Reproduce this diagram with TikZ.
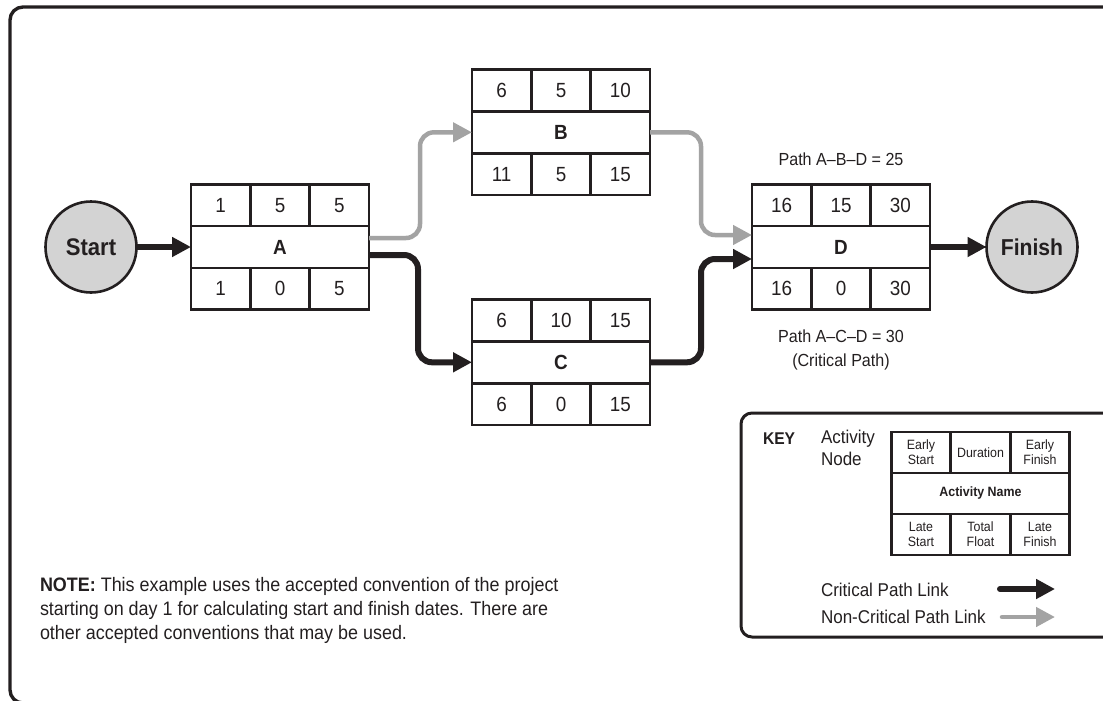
\documentclass[tikz,border=0pt]{standalone}
\usepackage{fontspec}
\setmainfont{Liberation Sans}[FakeStretch=0.92]
\usetikzlibrary{arrows.meta,calc}
\definecolor{ink}{HTML}{231F20}
\definecolor{lgray}{HTML}{A3A3A3}
\definecolor{cfill}{HTML}{D3D3D3}
\tikzset{
  cellfont/.style={font=\fontsize{20.5}{22}\selectfont},
  cellsize/.style={minimum width=59.33pt, minimum height=41.8pt},
  cell/.style={draw=ink, line width=2.6pt, inner sep=0pt, outer sep=0pt,
    align=center, text=ink, cellsize, cellfont},
  namecell/.style={cell, minimum width=178pt},
  endpt/.style={circle, draw=ink, line width=2.6pt, fill=cfill, minimum size=91pt,
    inner sep=0pt, outer sep=0pt, text=ink},
  crit/.style={draw=ink, line width=6pt, rounded corners=14pt,
    -{Triangle[length=19pt,width=19pt]}},
  ncrit/.style={draw=lgray, line width=4.5pt, rounded corners=14pt,
    -{Triangle[length=19pt,width=19pt]}},
  txt/.style={inner sep=0pt, outer sep=0pt, text=ink},
  frame/.style={draw=ink, line width=3.4pt, rounded corners=13pt},
}
\newcommand{\actbox}[9]{%
  \node[namecell] (#1) at (#2) {#6};
  \node[cell, anchor=south west] (#1-es) at (#1.north west) {#3};
  \node[cell, anchor=south] (#1-du) at (#1.north) {#4};
  \node[cell, anchor=south east] (#1-ef) at (#1.north east) {#5};
  \node[cell, anchor=north west] (#1-ls) at (#1.south west) {#7};
  \node[cell, anchor=north] (#1-tf) at (#1.south) {#8};
  \node[cell, anchor=north east] (#1-lf) at (#1.south east) {#9};
}
\begin{document}
\begin{tikzpicture}[x=1pt,y=-1pt]
\useasboundingbox (0,0) rectangle (1103,701);
\begin{scope}
  \clip (0,0) rectangle (1103,701);
  \draw[frame] (10,7) rectangle (1140,703);
  \draw[frame, line width=3pt, rounded corners=11pt] (741,413) rectangle (1140,637);
\end{scope}

% activity nodes
\actbox{A}{280,247}{1}{5}{5}{\textbf{A}}{1}{0}{5}
\actbox{B}{561,132.3}{6}{5}{10}{\textbf{B}}{11}{5}{15}
\actbox{C}{561,362.3}{6}{10}{15}{\textbf{C}}{6}{0}{15}
\actbox{D}{841,247}{16}{15}{30}{\textbf{D}}{16}{0}{30}

\node[endpt, font=\bfseries\fontsize{24}{26}\selectfont] (start) at (91,247) {Start};
\node[endpt, font=\bfseries\fontsize{23}{26}\selectfont] (finish) at (1032,247) {Finish};

% connectors
\draw[crit] (start) -- (A);
\draw[ncrit] ([yshift=9pt]A.east) -- ++(51,0) |- (B.west);
\draw[crit] ([yshift=-8pt]A.east) -- ++(49,0) |- (C.west);
\draw[ncrit] (B.east) -- ++(51,0) |- ([yshift=12pt]D.west);
\draw[crit] (C.east) -- ++(51,0) |- ([yshift=-12pt]D.west);
\draw[crit] (D) -- (finish);

% path labels
\node[txt, anchor=base, font=\fontsize{17.5}{20}\selectfont] (pabd) at (841,165) {Path A–B–D = 25};
\node[txt, anchor=base, font=\fontsize{17.5}{20}\selectfont] (pacd) at (841,342.7) {Path A–C–D = 30};
\node[txt, anchor=base, font=\fontsize{17.5}{20}\selectfont] (crp) at (841,366.7) {(Critical Path)};

% key
\node[txt, anchor=base west, font=\bfseries\fontsize{17}{19}\selectfont] (keylbl) at (763,444) {KEY};
\node[txt, anchor=north west, align=left, font=\fontsize{18.5}{22}\selectfont] (actlbl) at (821,430) {Activity\\Node};
\begin{scope}[cellfont/.style={font=\fontsize{13.5}{15}\selectfont},
              cellsize/.style={minimum width=59pt, minimum height=41pt}]
\actbox{key}{980.5,493.3}{Early\\Start}{Duration}{Early\\Finish}{\textbf{Activity Name}}{Late\\Start}{Total\\Float}{Late\\Finish}
\end{scope}
\node[txt, anchor=base west, font=\fontsize{18.5}{22}\selectfont] (critlbl) at (821,596.7) {Critical Path Link};
\node[txt, anchor=base west, font=\fontsize{18.5}{22}\selectfont] (ncritlbl) at (821,623) {Non-Critical Path Link};
\coordinate (k1s) at (1000,589);
\coordinate (k1e) at (1055,589);
\coordinate (k2s) at (1002,617);
\coordinate (k2e) at (1055,617);
\draw[crit, line cap=round] (k1s) -- (k1e);
\draw[ncrit, line cap=round] (k2s) -- (k2e);

% note
\node[txt, anchor=north west, align=left, font=\fontsize{19.5}{24.2}\selectfont] (note) at (40,577.3)
  {\textbf{NOTE:} This example uses the accepted convention of the project\\
   starting on day 1 for calculating start and finish dates. There are\\
   other accepted conventions that may be used.};
\end{tikzpicture}
\end{document}
